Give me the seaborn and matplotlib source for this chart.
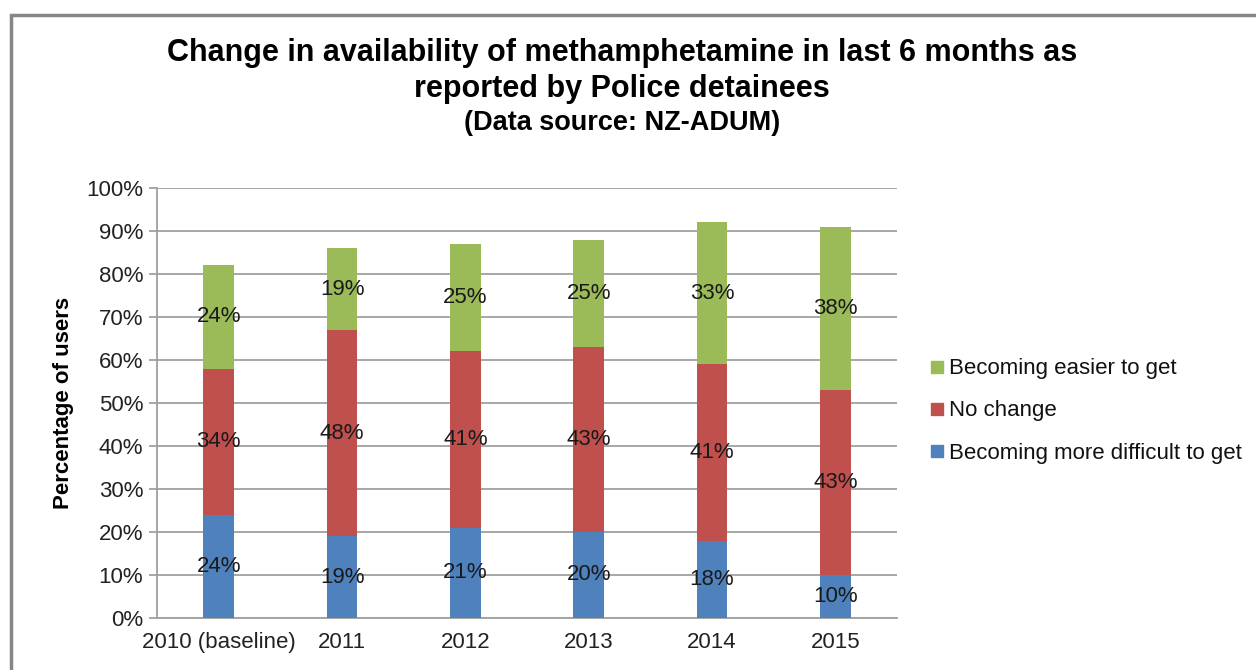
import matplotlib
matplotlib.use("Agg")
import matplotlib.pyplot as plt
from matplotlib.lines import Line2D
from matplotlib.patches import Rectangle
import seaborn as sns
import numpy as np
import pandas as pd

years = ["2010 (baseline)", "2011", "2012", "2013", "2014", "2015"]
more_difficult = [24, 19, 21, 20, 18, 10]
no_change = [34, 48, 41, 43, 41, 43]
easier = [24, 19, 25, 25, 33, 38]

series_names = ["Becoming easier to get", "No change", "Becoming more difficult to get"]
colors = {"Becoming easier to get": "#9BBB59",
          "No change": "#C0504D",
          "Becoming more difficult to get": "#4F81BD"}

sns.set_theme(style="white")
plt.rcParams["font.family"] = ["Liberation Sans", "DejaVu Sans"]

fig = plt.figure(figsize=(12.56, 6.70), dpi=100)
ax = fig.add_axes([157 / 1256, 1 - 618 / 670, (897 - 157) / 1256, (618 - 188) / 670])

b = np.array(more_difficult, dtype=float)
r = np.array(no_change, dtype=float)
g = np.array(easier, dtype=float)

df = pd.DataFrame({"year": years, "top": b + r + g, "mid": b + r, "low": b})

sns.barplot(data=df, x="year", y="top", color=colors["Becoming easier to get"],
            width=0.25, saturation=1, ax=ax, edgecolor="none", zorder=3)
sns.barplot(data=df, x="year", y="mid", color=colors["No change"],
            width=0.25, saturation=1, ax=ax, edgecolor="none", zorder=3)
sns.barplot(data=df, x="year", y="low", color=colors["Becoming more difficult to get"],
            width=0.25, saturation=1, ax=ax, edgecolor="none", zorder=3)

for i in range(len(years)):
    for bottom, val in ((0, b[i]), (b[i], r[i]), (b[i] + r[i], g[i])):
        ax.text(i, bottom + val / 2, f"{int(val)}%", ha="center", va="center",
                fontsize=16, color="#1a1a1a", zorder=5)

ax.set_xlim(-0.5, 5.5)
ax.set_ylim(0, 100)
ax.set_yticks(np.arange(0, 101, 10))
ax.set_yticklabels([f"{v}%" for v in range(0, 101, 10)])
ax.yaxis.grid(True, color="#A0A0A0", linewidth=1.3, zorder=0)
ax.xaxis.grid(False)
ax.set_axisbelow(True)
for s in ("top", "right"):
    ax.spines[s].set_visible(False)
for s in ("left", "bottom"):
    ax.spines[s].set_color("#A0A0A0")
    ax.spines[s].set_linewidth(1.3)
ax.tick_params(axis="y", which="both", length=6, width=1.3, color="#A0A0A0",
               labelsize=16, labelcolor="#222222", pad=4, left=True)
ax.tick_params(axis="x", length=0, labelsize=16, labelcolor="#222222", pad=10)
ax.set_xlabel("")
ax.set_ylabel("Percentage of users", fontsize=16, fontweight="bold", color="#000000", labelpad=9)

fig.text(0.495, 1 - 53 / 670, "Change in availability of methamphetamine in last 6 months as",
         ha="center", va="center", fontsize=22, fontweight="bold", color="#000000")
fig.text(0.495, 1 - 89 / 670, "reported by Police detainees",
         ha="center", va="center", fontsize=22, fontweight="bold", color="#000000")
fig.text(0.495, 1 - 123 / 670, "(Data source: NZ-ADUM)",
         ha="center", va="center", fontsize=19.5, fontweight="bold", color="#000000")

handles = [Line2D([0], [0], marker="s", linestyle="none", markersize=8,
                  markerfacecolor=colors[n], markeredgecolor=colors[n]) for n in series_names]
fig.legend(handles, series_names, loc="center left", bbox_to_anchor=(910 / 1256, 1 - 411 / 670),
           frameon=False, fontsize=16, handlelength=0.6, handletextpad=0.25,
           labelspacing=0.95, labelcolor="#111111")

fig.patches.append(Rectangle((11 / 1256, -0.1), 1.2, 1 - 15 / 670 + 0.1, transform=fig.transFigure,
                             fill=False, edgecolor="#868686", linewidth=2.5, zorder=0))

fig.savefig("out.png", dpi=100)
